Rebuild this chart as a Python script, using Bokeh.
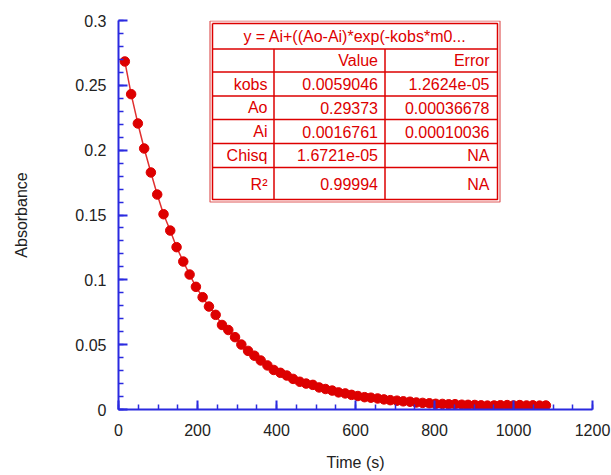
from bokeh.plotting import figure
from bokeh.models import Range1d, SingleIntervalTicker, CustomJSTickFormatter
from bokeh.core.properties import value
from bokeh.embed import file_html
from bokeh.resources import INLINE

# Absorbance decay measurement
time_s = [16, 32, 49, 65, 82, 98, 114, 131, 147, 164, 180, 196, 213, 229, 246,
          262, 278, 295, 311, 328, 344, 360, 377, 393, 410, 426, 442, 459, 475,
          492, 508, 524, 541, 557, 574, 590, 606, 623, 639, 656, 672, 688, 705,
          721, 738, 754, 770, 787, 803, 820, 836, 852, 869, 885, 902, 918, 934,
          951, 967, 984, 1000, 1016, 1033, 1049, 1066, 1082]
absorbance = [0.2684, 0.2432, 0.2206, 0.2013, 0.1828, 0.1658, 0.1506, 0.1380,
              0.1252, 0.1141, 0.1041, 0.0946, 0.0866, 0.0794, 0.0730, 0.0652,
              0.0613, 0.0558, 0.0501, 0.0452, 0.0415, 0.0378, 0.0340, 0.0305,
              0.0283, 0.0262, 0.0236, 0.0214, 0.0200, 0.0190, 0.0170, 0.0158,
              0.0146, 0.0132, 0.0124, 0.0113, 0.0104, 0.0095, 0.0091, 0.0085,
              0.0078, 0.0072, 0.0068, 0.0063, 0.0060, 0.0054, 0.0051, 0.0048,
              0.0044, 0.0043, 0.0040, 0.0041, 0.0037, 0.0036, 0.0035, 0.0032,
              0.0030, 0.0031, 0.0033, 0.0034, 0.0031, 0.0034, 0.0031, 0.0032,
              0.0030, 0.0031]

# Curve-fit results table
fit_title = "y = Ai+((Ao-Ai)*exp(-kobs*m0..."
col_headers = ["", "Value", "Error"]
param_names = ["kobs", "Ao", "Ai", "Chisq", "R\u00b2"]
param_values = ["0.0059046", "0.29373", "0.0016761", "1.6721e-05", "0.99994"]
param_errors = ["1.2624e-05", "0.00036678", "0.00010036", "NA", "NA"]

W, H = 611, 475
LEFT, RIGHT, TOP, BOTTOM = 118, 592, 20, 409
X_MAX, Y_MAX = 1200, 0.3

RED = "#dd0000"
BLUE = "#2a2ae0"
FONT = "Liberation Sans"

p = figure(width=W, height=H, output_backend="svg", toolbar_location=None,
           x_range=Range1d(0, X_MAX), y_range=Range1d(0, Y_MAX + 1e-6),
           min_border_left=LEFT, min_border_right=W - RIGHT,
           min_border_top=TOP, min_border_bottom=H - BOTTOM,
           x_axis_label="Time (s)", y_axis_label="Absorbance")
p.outline_line_color = None
p.grid.visible = False
p.background_fill_color = "white"
p.border_fill_color = "white"

fmt = CustomJSTickFormatter(code="return String(Math.round(tick * 1000) / 1000);")
p.xaxis.ticker = SingleIntervalTicker(interval=200, num_minor_ticks=4)
p.yaxis.ticker = SingleIntervalTicker(interval=0.05, num_minor_ticks=5)
for ax in (p.xaxis[0], p.yaxis[0]):
    ax.formatter = fmt
    ax.axis_line_color = BLUE
    ax.axis_line_width = 2
    ax.major_tick_line_color = BLUE
    ax.minor_tick_line_color = BLUE
    ax.major_tick_line_width = 2
    ax.minor_tick_line_width = 1.5
    ax.major_tick_in = 9
    ax.major_tick_out = 0
    ax.minor_tick_in = 5
    ax.minor_tick_out = 0
    ax.major_label_text_font = FONT
    ax.major_label_text_font_size = "16px"
    ax.major_label_text_color = "#222222"
    ax.axis_label_text_font = FONT
    ax.axis_label_text_font_size = "16px"
    ax.axis_label_text_font_style = "normal"
    ax.axis_label_text_color = "#222222"
p.yaxis.major_label_standoff = 12
p.yaxis.axis_label_standoff = 42
p.xaxis.major_label_standoff = 14
p.xaxis.axis_label_standoff = 15

# data: markers joined by a thin line
p.line(time_s, absorbance, line_color="#e03030", line_width=1.5)
p.scatter(time_s, absorbance, size=9.5, fill_color=RED, line_color=RED)


# table placed in screen pixels, converted to data coordinates
def dx(px):
    return (px - LEFT) / (RIGHT - LEFT) * X_MAX


def dy(py):
    return (BOTTOM - py) / (BOTTOM - TOP) * Y_MAX


def rect(l, r, t, b, color, width):
    p.multi_line([[dx(l), dx(r), dx(r), dx(l), dx(l)]],
                 [[dy(t), dy(t), dy(b), dy(b), dy(t)]],
                 line_color=color, line_width=width)


p.quad(left=dx(209.5), right=dx(499.5), top=dy(20.5), bottom=dy(201.5),
       fill_color="white", line_color=None)
rect(209.5, 499.5, 20.5, 201.5, "#e05a5a", 1.2)
rect(212, 497, 23, 199, RED, 1.5)

row_lines = [48.5, 71.5, 95.5, 119, 143, 167]
p.segment(x0=[dx(212)] * len(row_lines), x1=[dx(497)] * len(row_lines),
          y0=[dy(v) for v in row_lines], y1=[dy(v) for v in row_lines],
          line_color=RED, line_width=1.5)
col_lines = [273.5, 384.5]
p.segment(x0=[dx(v) for v in col_lines], x1=[dx(v) for v in col_lines],
          y0=[dy(48.5)] * 2, y1=[dy(199)] * 2, line_color=RED, line_width=1.5)

text_kw = dict(text_font=value(FONT), text_font_size="16px", text_color=RED,
               text_baseline="middle")
p.text(x=[dx(354.5)], y=[dy(35.7)], text=[fit_title], text_align="center", **text_kw)

row_centers = [59.5, 83.5, 107, 131, 154.5, 183.5]
col_right = [267, 377.5, 489]
columns = [[col_headers[0]] + param_names,
           [col_headers[1]] + param_values,
           [col_headers[2]] + param_errors]
for xr, col in zip(col_right, columns):
    p.text(x=[dx(xr)] * len(col), y=[dy(v) for v in row_centers], text=col,
           text_align="right", **text_kw)

open("out.html", "w").write(file_html(p, INLINE))
